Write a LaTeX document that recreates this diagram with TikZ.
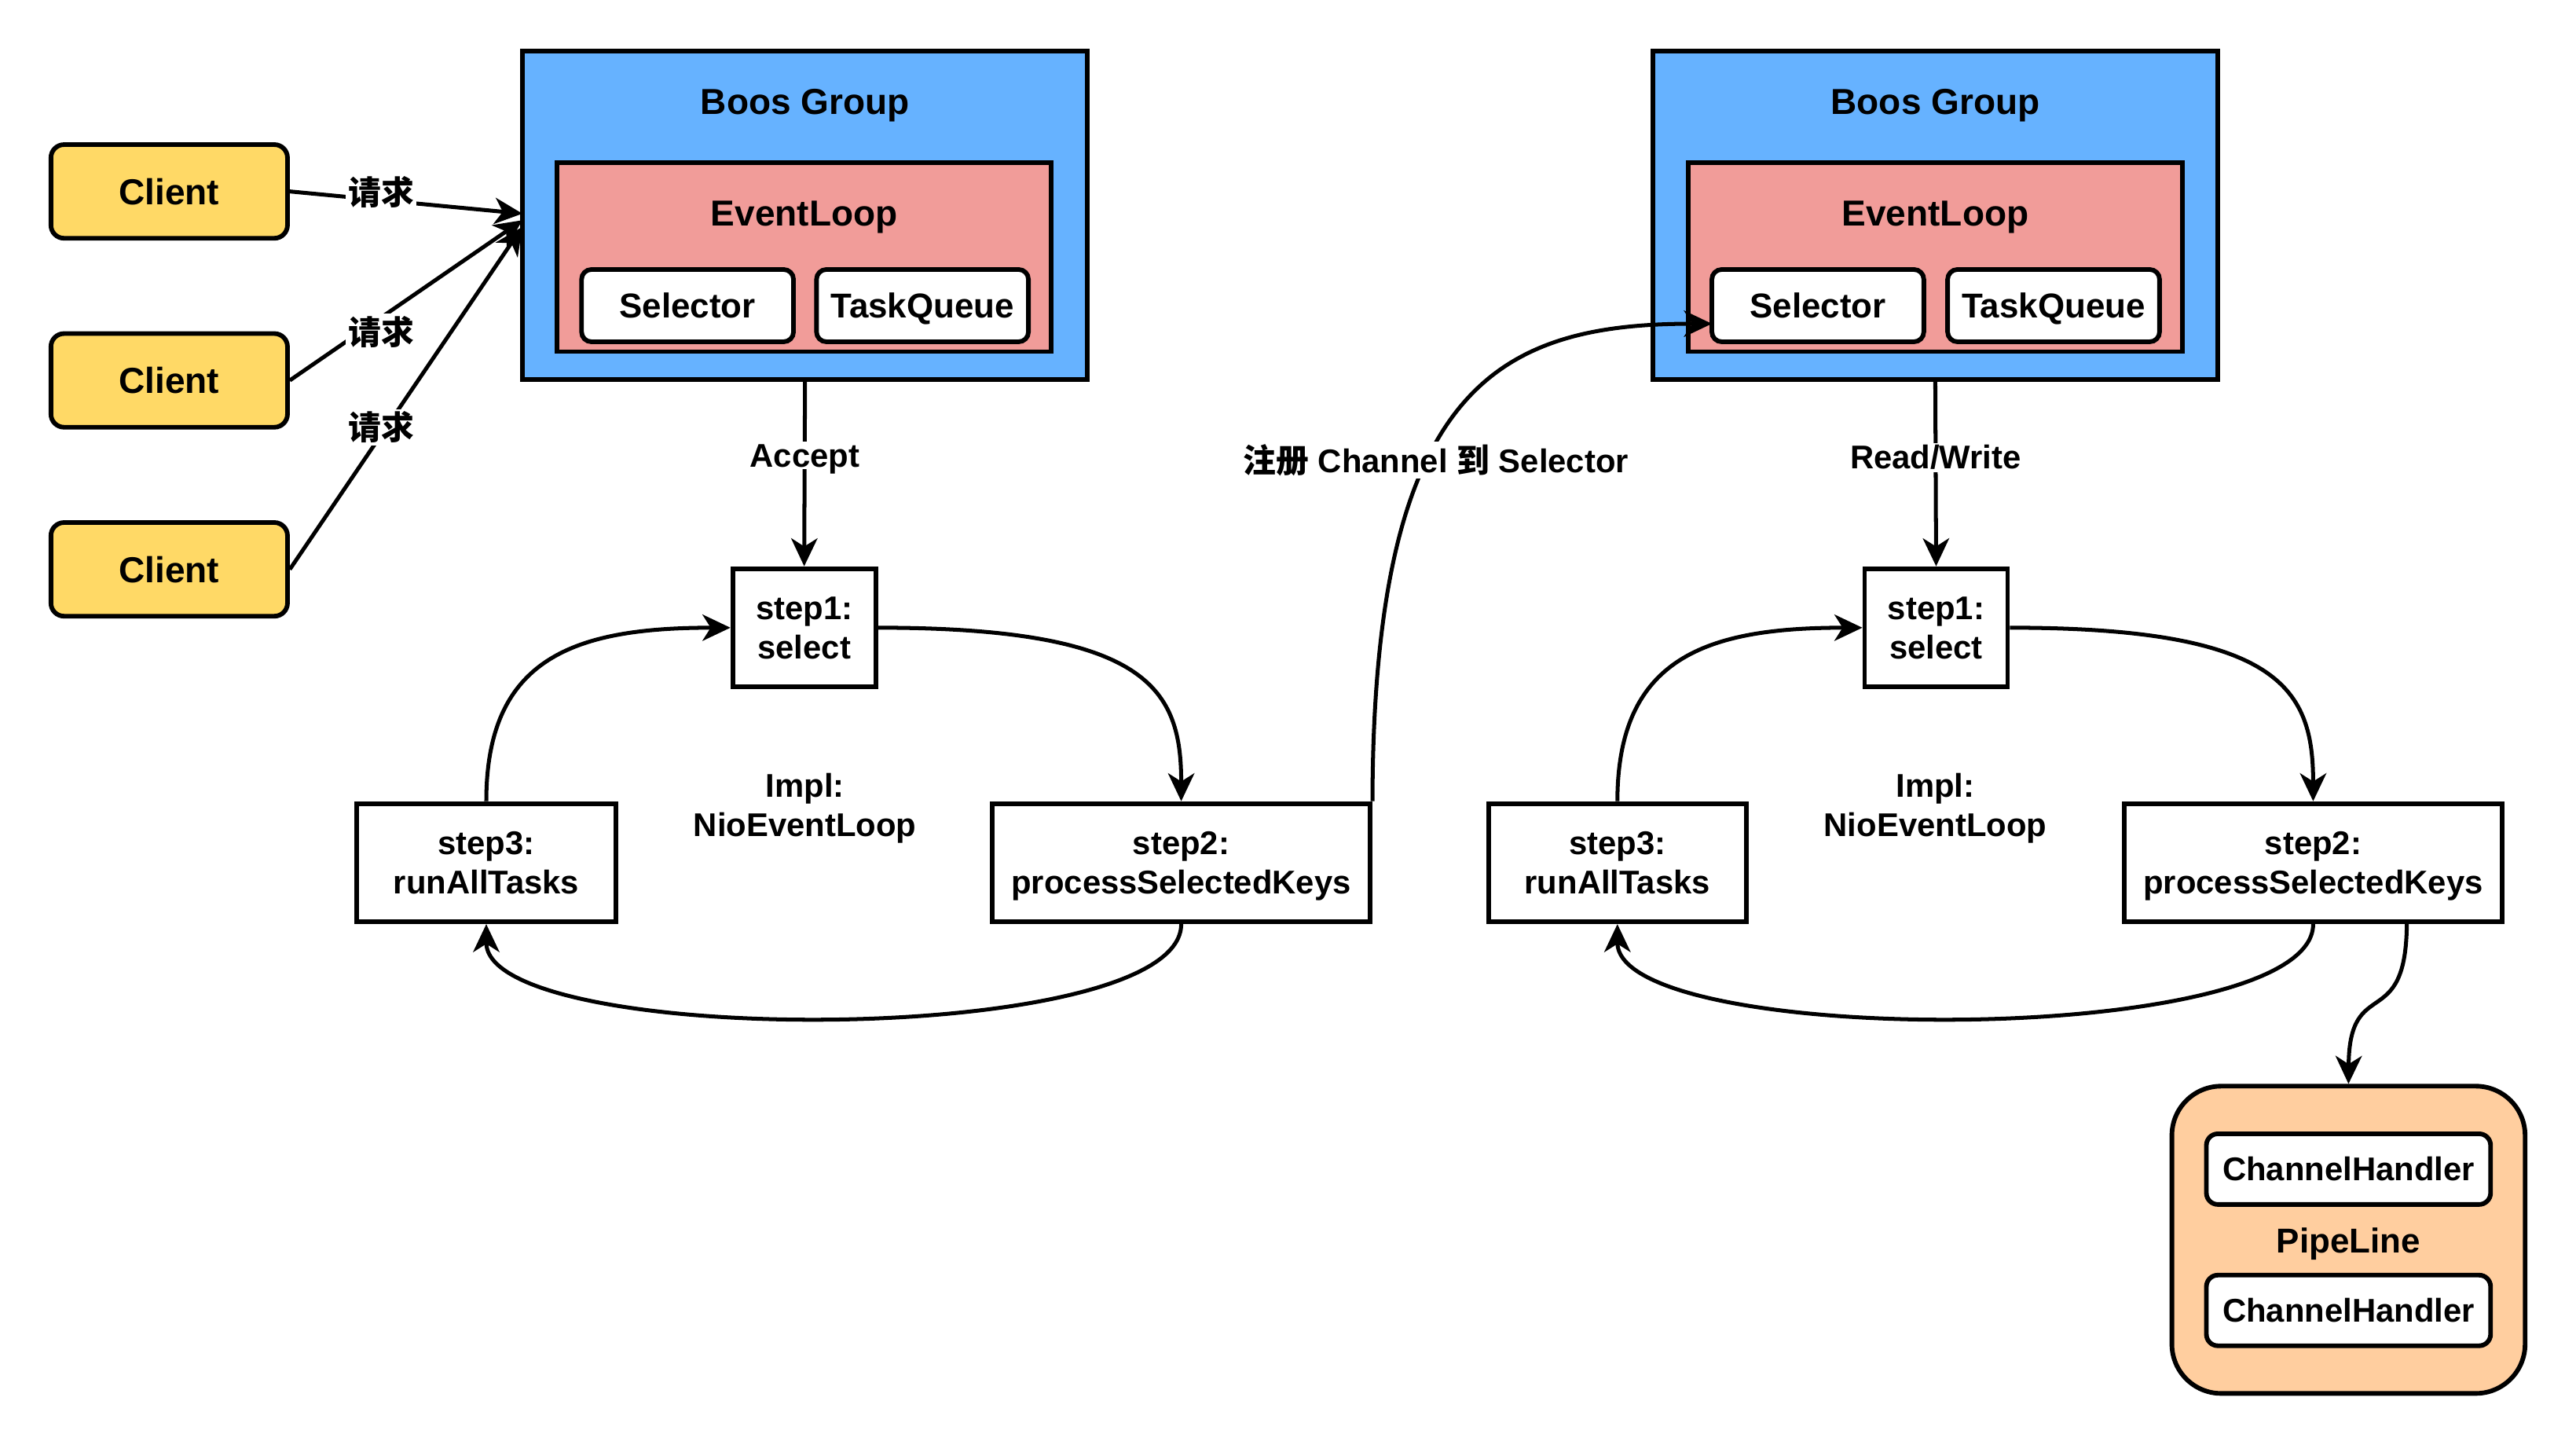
\documentclass[tikz,border=0pt]{standalone}
\usepackage{fontspec}
\setmainfont{Liberation Sans}
\newfontfamily\cjk{Noto Sans CJK SC}
\usetikzlibrary{arrows.meta}
\definecolor{cyel}{HTML}{FFD966}
\definecolor{cblue}{HTML}{66B2FF}
\definecolor{cpink}{HTML}{F19C99}
\definecolor{corange}{HTML}{FFCE9F}
\tikzset{
  fA/.style={font=\fontsize{22}{26}\selectfont\bfseries},
  fB/.style={font=\fontsize{21}{25}\selectfont\bfseries},
  fC/.style={font=\fontsize{20}{24}\selectfont\bfseries},
  bw/.style={line width=2.8pt},
  client/.style={draw, bw, fill=cyel, rounded corners=8pt, minimum width=144pt, minimum height=57pt, inner sep=0pt, fA},
  grp/.style={draw, bw, fill=cblue, minimum width=344pt, minimum height=200pt, inner sep=0pt},
  el/.style={draw, bw, fill=cpink, minimum width=301pt, minimum height=115pt, inner sep=0pt},
  sub/.style={draw, bw, fill=white, rounded corners=6pt, minimum width=129pt, minimum height=44pt, inner sep=0pt, fB},
  stepbox/.style={draw, bw, fill=white, minimum height=72pt, inner sep=0pt, align=center, text depth=0pt, fC},
  txt/.style={inner sep=0pt, align=center, text depth=0pt},
  lbl/.style={fill=white, inner sep=1.5pt, fC},
  conn/.style={line width=2.4pt, -{Stealth[length=17pt,width=16pt,inset=5pt]}},
}
\begin{document}
\begin{tikzpicture}[x=1pt,y=-1pt]
\useasboundingbox[fill=white] (0,0) rectangle (1568,879);

% clients
\node[client] (c1) at (103,116.5) {Client};
\node[client] (c2) at (103,231.5) {Client};
\node[client] (c3) at (103,346.5) {Client};

% left group
\node[grp] (bg1) at (490,131) {};
\node[txt,fA] (bg1t) at (490,62) {Boos Group};
\node[el] (el1) at (489.5,156.5) {};
\node[txt,fA] (el1t) at (489.5,130) {EventLoop};
\node[sub] (sel1) at (418.5,186) {Selector};
\node[sub, text depth=0pt] (tq1) at (561.5,186) {TaskQueue};

% right group
\node[grp] (bg2) at (1178,131) {};
\node[txt,fA] (bg2t) at (1178,62) {Boos Group};
\node[el] (el2) at (1178,156.5) {};
\node[txt,fA] (el2t) at (1178,130) {EventLoop};
\node[sub] (sel2) at (1106.5,186) {Selector};
\node[sub, text depth=0pt] (tq2) at (1250,186) {TaskQueue};

% left loop
\node[stepbox, minimum width=87pt] (s1a) at (489.5,382) {step1:\\select};
\node[stepbox, minimum width=158pt] (s3a) at (296,525) {step3:\\runAllTasks};
\node[stepbox, minimum width=230pt] (s2a) at (719,525) {step2:\\processSelectedKeys};
\node[txt,fC] (impl1) at (490,490) {Impl:\\NioEventLoop};

% right loop
\node[stepbox, minimum width=87pt] (s1b) at (1178.5,382) {step1:\\select};
\node[stepbox, minimum width=157pt] (s3b) at (984.5,525) {step3:\\runAllTasks};
\node[stepbox, minimum width=230pt] (s2b) at (1408,525) {step2:\\processSelectedKeys};
\node[txt,fC] (impl2) at (1178,490) {Impl:\\NioEventLoop};

% pipeline
\node[draw, bw, fill=corange, rounded corners=30pt, minimum width=215pt, minimum height=187pt, inner sep=0pt] (pl) at (1429.5,754.5) {};
\node[txt,fB] (plt) at (1429.5,755) {PipeLine};
\node[draw, bw, fill=white, rounded corners=7pt, minimum width=173pt, minimum height=43pt, inner sep=0pt, fC] (ch1) at (1429.5,711.5) {ChannelHandler};
\node[draw, bw, fill=white, rounded corners=7pt, minimum width=173pt, minimum height=43pt, inner sep=0pt, fC] (ch2) at (1429.5,797.5) {ChannelHandler};

% client arrows
\coordinate (t1) at (318,130);
\coordinate (t2) at (318,134);
\coordinate (t3) at (318,138);
\draw[conn] (c1.east) -- (t1);
\draw[conn] (c2.east) -- (t2);
\draw[conn] (c3.east) -- (t3);
\node[lbl] (q1) at (232,117) {\cjk 请求};
\node[lbl] (q2) at (232,202) {\cjk 请求};
\node[lbl] (q3) at (232,260) {\cjk 请求};

% left connectors
\draw[conn] (bg1.south) -- node[lbl, pos=0.4, text depth=0pt] {Accept} (s1a.north);
\draw[conn] (s1a.east) .. controls (700,382) and (719,420) .. (s2a.north);
\draw[conn] (s2a.south) .. controls (719,638) and (296,638) .. (s3a.south);
\draw[conn] (s3a.north) .. controls (296,400) and (350,382) .. (s1a.west);

% register
\coordinate (selin) at (1042,197);
\draw[conn] (s2a.north east) .. controls (836,235) and (912,197) .. (selin);
\node[lbl] (reg) at (874,280) {{\cjk 注册} Channel {\cjk 到} Selector};

% right connectors
\draw[conn] (bg2.south) -- node[lbl, pos=0.41] {Read/Write} (s1b.north);
\draw[conn] (s1b.east) .. controls (1389,382) and (1408,420) .. (s2b.north);
\draw[conn] (s2b.south) .. controls (1408,638) and (984.5,638) .. (s3b.south);
\draw[conn] (s3b.north) .. controls (984.5,400) and (1039,382) .. (s1b.west);

% to pipeline
\coordinate (p0) at (1465,561);
\draw[conn] (p0) .. controls (1465,630) and (1430,592) .. (pl.north);
\end{tikzpicture}
\end{document}
